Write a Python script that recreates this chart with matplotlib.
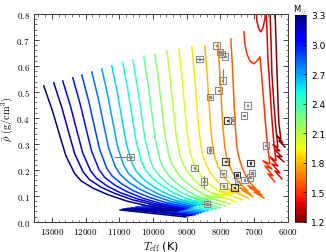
import matplotlib
matplotlib.use("Agg")
import matplotlib.pyplot as plt
from matplotlib import colors, colorbar
from matplotlib.ticker import MultipleLocator, FuncFormatter

# stellar masses of the tracks (Msun), colour scale range
masses = [3.3, 3.2, 3.1, 3.0, 2.9, 2.8, 2.7, 2.6, 2.5, 2.4, 2.3,
          2.2, 2.1, 2.0, 1.9, 1.8, 1.7, 1.6, 1.5, 1.4, 1.3, 1.2]
cbar_ticks = [1.2, 1.5, 1.8, 2.1, 2.4, 2.7, 3.0, 3.3]

# evolutionary tracks: Teff (K) and mean density (g/cm^3)
teff_33 = [13237, 12979, 12760, 12581, 12323, 12124, 11766, 11341, 10772, 10136, 9262, 10982, 9022]
rho_33 = [0.523, 0.427, 0.331, 0.254, 0.186, 0.157, 0.129, 0.105, 0.080, 0.061, 0.042, 0.046, 0.019]
teff_32 = [12940, 12695, 12488, 12318, 12074, 11885, 11546, 11143, 10604, 10002, 9173, 10893, 8933]
rho_32 = [0.535, 0.437, 0.339, 0.261, 0.193, 0.163, 0.134, 0.110, 0.085, 0.066, 0.046, 0.050, 0.023]
teff_31 = [12674, 12441, 12243, 12082, 11848, 11669, 11346, 10962, 10448, 9874, 9084, 10775, 8844]
rho_31 = [0.542, 0.443, 0.344, 0.265, 0.196, 0.167, 0.137, 0.112, 0.088, 0.068, 0.048, 0.052, 0.025]
teff_30 = [12377, 12157, 11971, 11819, 11599, 11430, 11126, 10764, 10280, 9739, 8995, 10656, 8755]
rho_30 = [0.554, 0.453, 0.352, 0.272, 0.201, 0.171, 0.141, 0.116, 0.090, 0.070, 0.050, 0.054, 0.027]
teff_29 = [12110, 11902, 11726, 11581, 11373, 11213, 10925, 10582, 10124, 9611, 8906, 10508, 8666]
rho_29 = [0.565, 0.463, 0.361, 0.279, 0.207, 0.177, 0.146, 0.120, 0.095, 0.074, 0.054, 0.058, 0.031]
teff_28 = [11813, 11618, 11453, 11319, 11124, 10974, 10704, 10384, 9955, 9476, 8817, 10330, 8577]
rho_28 = [0.577, 0.473, 0.369, 0.286, 0.214, 0.183, 0.151, 0.125, 0.100, 0.079, 0.058, 0.062, 0.035]
teff_27 = [11516, 11335, 11181, 11056, 10875, 10735, 10484, 10186, 9787, 9341, 8728, 10122, 8488]
rho_27 = [0.588, 0.483, 0.378, 0.293, 0.220, 0.188, 0.157, 0.130, 0.104, 0.083, 0.062, 0.067, 0.039]
teff_26 = [11220, 11050, 10907, 10789, 10619, 10489, 10254, 9975, 9601, 9183, 8609, 9885, 8369]
rho_26 = [0.600, 0.493, 0.386, 0.300, 0.225, 0.193, 0.161, 0.135, 0.108, 0.086, 0.065, 0.070, 0.042]
teff_25 = [10893, 10737, 10605, 10497, 10340, 10220, 10004, 9747, 9403, 9019, 8490, 9618, 8250]
rho_25 = [0.612, 0.503, 0.395, 0.308, 0.232, 0.199, 0.167, 0.140, 0.112, 0.091, 0.069, 0.075, 0.046]
teff_24 = [10597, 10452, 10330, 10230, 10085, 9974, 9774, 9536, 9217, 8861, 8372, 9351, 8132]
rho_24 = [0.623, 0.513, 0.403, 0.315, 0.238, 0.205, 0.172, 0.144, 0.117, 0.095, 0.073, 0.080, 0.050]
teff_23 = [10270, 10139, 10028, 9937, 9806, 9705, 9524, 9308, 9019, 8697, 8253, 9084, 8013]
rho_23 = [0.635, 0.523, 0.412, 0.323, 0.244, 0.211, 0.177, 0.150, 0.122, 0.099, 0.077, 0.085, 0.054]
teff_22 = [9944, 9824, 9723, 9640, 9521, 9429, 9263, 9066, 8803, 8509, 8104, 8817, 7864]
rho_22 = [0.646, 0.534, 0.422, 0.332, 0.253, 0.220, 0.186, 0.158, 0.130, 0.107, 0.085, 0.095, 0.062]
teff_21 = [9588, 9482, 9392, 9319, 9213, 9131, 8984, 8810, 8576, 8315, 7956, 8550, 7716]
rho_21 = [0.658, 0.545, 0.432, 0.341, 0.262, 0.228, 0.194, 0.166, 0.137, 0.115, 0.092, 0.103, 0.069]
teff_20 = [9232, 9137, 9058, 8992, 8898, 8825, 8694, 8538, 8331, 8098, 7778, 8283, 7538]
rho_20 = [0.665, 0.552, 0.439, 0.349, 0.269, 0.236, 0.202, 0.173, 0.145, 0.123, 0.100, 0.112, 0.077]
teff_19 = [8846, 8765, 8696, 8640, 8559, 8497, 8385, 8252, 8073, 7874, 7600, 8045, 7360]
rho_19 = [0.673, 0.560, 0.447, 0.357, 0.277, 0.244, 0.210, 0.181, 0.153, 0.131, 0.108, 0.120, 0.085]
teff_18 = [8460, 8393, 8335, 8289, 8221, 8169, 8076, 7965, 7816, 7650, 7422, 7778, 7182]
rho_18 = [0.677, 0.565, 0.452, 0.362, 0.284, 0.250, 0.216, 0.188, 0.160, 0.137, 0.115, 0.128, 0.092]
teff_17 = [8075, 8017, 7968, 7928, 7870, 7826, 7746, 7650, 7523, 7381, 7185, 7422, 7110,
           7363, 7035]
rho_17 = [0.685, 0.572, 0.459, 0.368, 0.289, 0.255, 0.221, 0.193, 0.164, 0.142, 0.119,
          0.131, 0.108, 0.123, 0.096]
teff_16 = [7689, 7641, 7600, 7567, 7518, 7481, 7414, 7335, 7229, 7110, 6947, 7184, 6828,
           7125, 6769, 7006, 6710]
rho_16 = [0.704, 0.589, 0.473, 0.381, 0.300, 0.265, 0.231, 0.202, 0.173, 0.150, 0.127,
          0.139, 0.115, 0.131, 0.104, 0.115, 0.092]
teff_15 = [7303, 7274, 7214, 7125, 7007, 6888, 6829, 6814, 6769, 6710, 6651, 6591,
           6532, 6740, 6473, 6680, 6443, 6591, 6384]
rho_15 = [0.731, 0.685, 0.646, 0.619, 0.608, 0.623, 0.635, 0.619, 0.550, 0.454,
          0.358, 0.281, 0.223, 0.235, 0.204, 0.215, 0.177, 0.185, 0.154]
teff_14 = [6947, 6918, 6858, 6799, 6740, 6680, 6651, 6621, 6591, 6532, 6473, 6413,
           6354, 6532, 6295, 6473, 6235, 6384, 6176]
rho_14 = [0.827, 0.773, 0.742, 0.731, 0.746, 0.781, 0.827, 0.742, 0.627, 0.512,
          0.396, 0.300, 0.235, 0.250, 0.215, 0.223, 0.188, 0.196, 0.165]
teff_13 = [6532, 6502, 6473, 6413, 6354, 6295, 6443, 6235, 6384, 6176, 6325, 6117]
rho_13 = [0.827, 0.704, 0.569, 0.454, 0.358, 0.288, 0.296, 0.273, 0.277, 0.250,
          0.254, 0.231]
teff_12 = [6384, 6354, 6325, 6295, 6265, 6206, 6325, 6147, 6265, 6087]
rho_12 = [0.827, 0.704, 0.588, 0.473, 0.377, 0.319, 0.331, 0.304, 0.312, 0.288]

# observed stars
obs_teff = [8113, 8015, 7956, 7858, 8618, 7932, 8060, 8312, 7194, 7303, 7793, 7651,
            6651, 8306, 8763, 7843, 7110, 7926, 7505, 7057, 7119, 7280, 7475, 8481,
            7912, 7576, 8401, 10665]
obs_rho = [0.678, 0.654, 0.646, 0.637, 0.627, 0.543, 0.505, 0.480, 0.447, 0.409,
           0.390, 0.391, 0.293, 0.277, 0.207, 0.232, 0.226, 0.187, 0.181, 0.189,
           0.170, 0.162, 0.155, 0.155, 0.138, 0.133, 0.068, 0.249]
obs_dark = [0, 0, 0, 0, 0, 0, 0, 0, 0, 0, 1, 0, 0, 0, 0, 1, 1, 0, 1, 0, 0, 0, 0, 0,
            0, 1, 0, 0]

# the few stars with visible error bars
err_teff = [8618, 7932, 8306, 8481, 8401, 10665]
err_rho = [0.627, 0.543, 0.277, 0.155, 0.068, 0.249]
err_t_lo = [120, 0, 0, 0, 165, 80]
err_t_hi = [120, 0, 0, 0, 165, 485]
err_r_lo = [0, 0.010, 0.015, 0.023, 0, 0]
err_r_hi = [0, 0.045, 0.015, 0.023, 0, 0]

track_teff = [teff_33, teff_32, teff_31, teff_30, teff_29, teff_28, teff_27, teff_26,
              teff_25, teff_24, teff_23, teff_22, teff_21, teff_20, teff_19, teff_18,
              teff_17, teff_16, teff_15, teff_14, teff_13, teff_12]
track_rho = [rho_33, rho_32, rho_31, rho_30, rho_29, rho_28, rho_27, rho_26,
             rho_25, rho_24, rho_23, rho_22, rho_21, rho_20, rho_19, rho_18,
             rho_17, rho_16, rho_15, rho_14, rho_13, rho_12]

plt.rcParams['mathtext.fontset'] = 'cm'
plt.rcParams['xtick.direction'] = 'in'
plt.rcParams['ytick.direction'] = 'in'

fig = plt.figure(figsize=(3.26, 2.53), dpi=100)
ax = fig.add_axes([0.104, 0.119, 0.779, 0.822])

cmap = plt.get_cmap('jet_r')
norm = colors.Normalize(vmin=1.2, vmax=3.3)

# low masses first so the blue tracks sit on top
for m, tt, rr in reversed(list(zip(masses, track_teff, track_rho))):
    ax.plot(tt, rr, color=cmap(norm(m)), lw=1.1, solid_joinstyle='round')

for i in range(len(err_teff)):
    ax.errorbar(err_teff[i], err_rho[i],
                xerr=[[err_t_lo[i]], [err_t_hi[i]]],
                yerr=[[err_r_lo[i]], [err_r_hi[i]]],
                fmt='none', ecolor='#7a7a7a', elinewidth=0.8, capsize=0, zorder=4)

edge = ['#3c3c3c' if d else '#8a8a8a' for d in obs_dark]
ax.scatter(obs_teff, obs_rho, marker='s', s=22, facecolors='none',
           edgecolors=edge, linewidths=0.8, zorder=5)
ax.scatter(obs_teff, obs_rho, marker='s', s=1.2, color=edge, zorder=5)

ax.set_xlim(13530, 6000)
ax.set_ylim(0, 0.8)
ax.xaxis.set_major_locator(MultipleLocator(1000))
ax.xaxis.set_minor_locator(MultipleLocator(200))
ax.yaxis.set_major_locator(MultipleLocator(0.1))
ax.yaxis.set_minor_locator(MultipleLocator(0.02))
ax.xaxis.set_major_formatter(FuncFormatter(lambda v, p: f'${v:.0f}$'))
ax.yaxis.set_major_formatter(FuncFormatter(lambda v, p: f'${v:.1f}$'))
ax.tick_params(which='both', top=True, right=True, labelsize=6.5, pad=3,
               color='#444444')
ax.tick_params(which='major', length=3.5, width=0.7)
ax.tick_params(which='minor', length=1.8, width=0.5)
for s in ax.spines.values():
    s.set_linewidth(0.8)
    s.set_color('#444444')

ax.set_xlabel(r'$T_{\rm eff}$ (K)', fontsize=8, labelpad=2)
ax.set_ylabel(r'$\bar{\rho}\ ({\rm g/cm^3})$', fontsize=7.5, labelpad=1)

cax = fig.add_axes([0.905, 0.119, 0.034, 0.818])
cb = colorbar.ColorbarBase(cax, cmap=cmap, norm=norm, ticks=cbar_ticks)
cb.outline.set_linewidth(0.5)
cax.tick_params(labelsize=6.5, length=2, width=0.5)
cax.set_title(r'M$_\odot$', fontsize=6, pad=3)

fig.savefig('out.png', dpi=100)
